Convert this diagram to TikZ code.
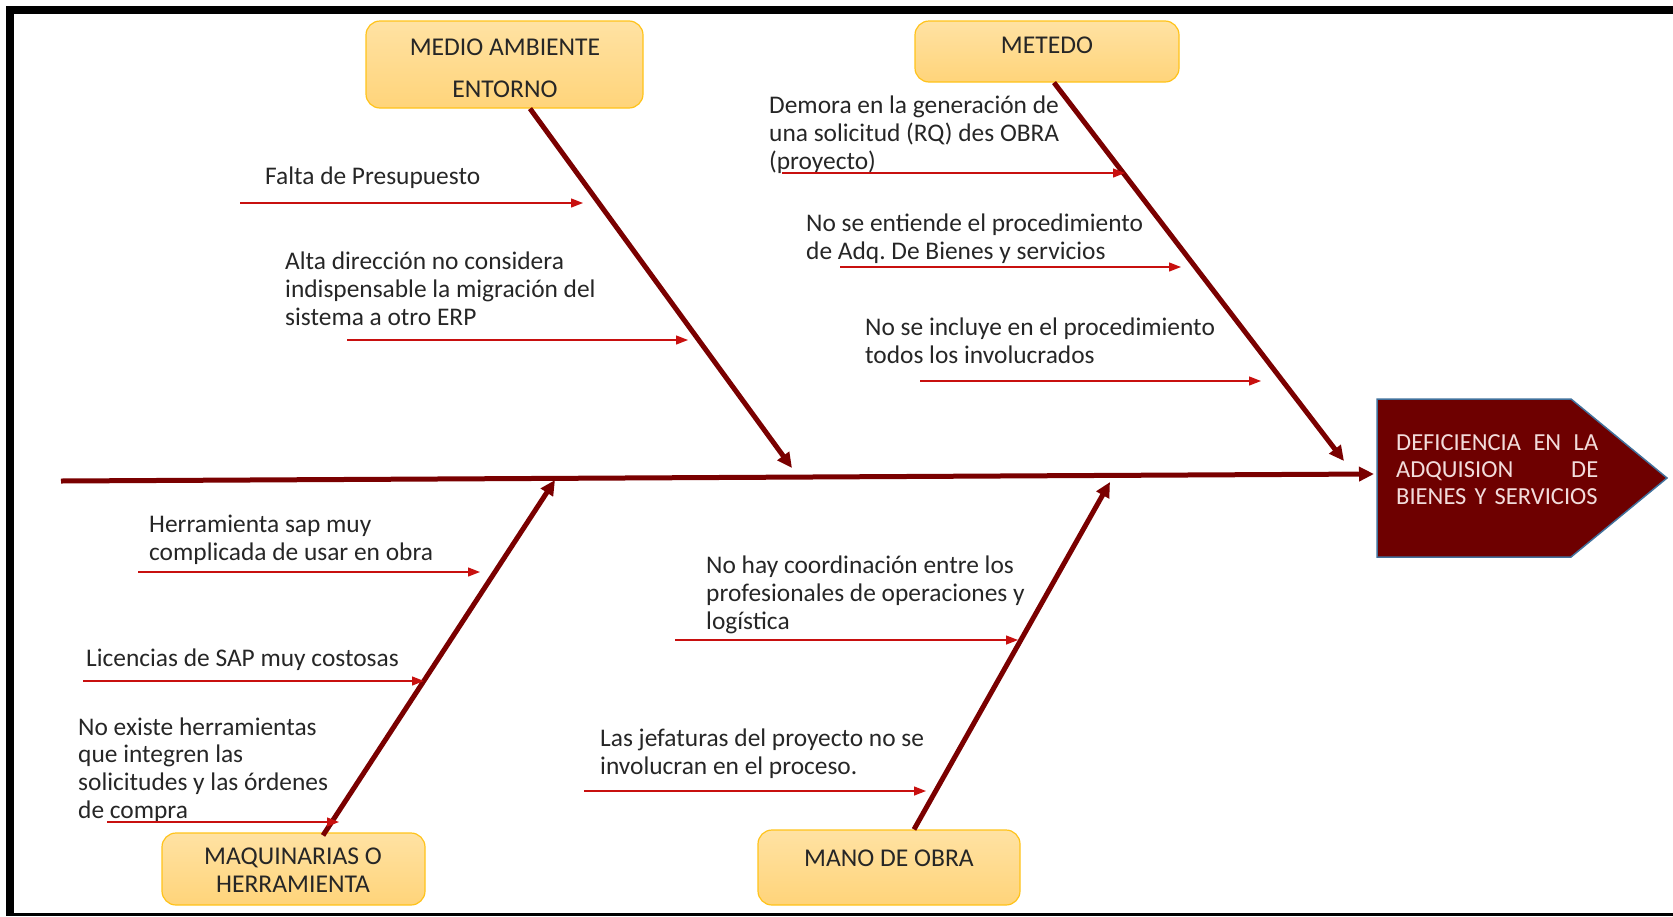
\documentclass[tikz,border=0pt]{standalone}
\usepackage{fontspec}
\setmainfont{Carlito}
\usetikzlibrary{arrows.meta}

\definecolor{rojoespina}{HTML}{7A0000}
\definecolor{rojocausa}{HTML}{C8100F}
\definecolor{rojocabeza}{HTML}{6E0000}
\definecolor{azulborde}{HTML}{41719C}
\definecolor{cajaarriba}{HTML}{FFE2A3}
\definecolor{cajaabajo}{HTML}{FFD47A}
\definecolor{cajaborde}{HTML}{FFC31A}
\definecolor{textogris}{HTML}{262626}
\definecolor{textocabeza}{HTML}{F2DCDB}

\begin{document}
\begin{tikzpicture}[x=1pt, y=-1pt,
    hueso/.style={rojoespina, line width=5pt, -{Triangle[length=15pt, width=14pt]}},
    flecha/.style={rojocausa, line width=1.3pt, -{Triangle[length=12pt, width=9pt]}},
    caja/.style={draw=cajaborde, line width=1.2pt, rounded corners=14pt,
      top color=cajaarriba, bottom color=cajaabajo, inner sep=0pt},
    titulo/.style={text=textogris, font=\fontsize{25.6}{27.5}\selectfont, align=center, inner sep=0pt},
    causatxt/.style={text=textogris, font=\fontsize{25.4}{27.6}\selectfont, align=left,
      anchor=base west, inner sep=0pt}]
  \useasboundingbox (0, 0) rectangle (1673, 916);

  % marco
  \fill[black] (6, 6) rectangle (1673, 14);
  \fill[black] (6, 6) rectangle (14, 916);
  \fill[black] (6, 913) rectangle (1673, 916);

  % cabeza
  \fill[rojocabeza, draw=azulborde, line width=1.5pt]
    (1377, 399) -- (1571, 399) -- (1667, 478) -- (1571, 557) -- (1377, 557) -- cycle;
  \node[text=textocabeza, font=\fontsize{24.5}{27}\selectfont, text width=202pt, align=left,
    anchor=base west, inner sep=0pt] (efecto) at (1396, 450)
    {DEFICIENCIA\hfill EN\hfill LA\\ADQUISION\hfill DE\\BIENES Y SERVICIOS};

  % espina central
  \coordinate (cola) at (61, 481);
  \coordinate (efecto-w) at (1374, 474);
  \draw[hueso] (cola) -- (efecto-w);

  % categorias
  \node[caja, minimum width=277pt, minimum height=87pt] (medio) at (504.5, 64.5) {};
  \node[titulo] (medio-t) at (505, 68) {MEDIO AMBIENTE\\[14.5pt]ENTORNO};
  \node[caja, minimum width=264pt, minimum height=61pt] (metedo) at (1047, 51.5) {};
  \node[titulo] (metedo-t) at (1047, 45) {METEDO};
  \node[caja, minimum width=263pt, minimum height=72pt] (maquinas) at (293.5, 869) {};
  \node[titulo] (maquinas-t) at (293, 870) {MAQUINARIAS O\\HERRAMIENTA};
  \node[caja, minimum width=262pt, minimum height=75pt] (mano) at (889, 867.5) {};
  \node[titulo] (mano-t) at (889, 858) {MANO DE OBRA};

  % huesos
  \coordinate (medio-e) at (792, 468);
  \coordinate (metedo-e) at (1344, 461);
  \coordinate (maquinas-e) at (555, 480);
  \coordinate (mano-e) at (1110, 482);
  \draw[hueso] ([xshift=25.5pt]medio.south) -- (medio-e);
  \draw[hueso] ([xshift=7pt]metedo.south) -- (metedo-e);
  \draw[hueso] ([xshift=29.5pt, yshift=-3pt]maquinas.north) -- (maquinas-e);
  \draw[hueso] ([xshift=25pt]mano.north) -- (mano-e);

  % causas - medio ambiente
  \node[causatxt] (falta) at (265, 184) {Falta de Presupuesto};
  \coordinate (falta-a) at (240, 203);
  \coordinate (falta-b) at (583, 203);
  \draw[flecha] (falta-a) -- (falta-b);
  \node[causatxt] (alta) at (285, 325)
    {Alta dirección no considera\\indispensable la migración del\\sistema a otro ERP};
  \coordinate (alta-a) at (347, 340);
  \coordinate (alta-b) at (688, 340);
  \draw[flecha] (alta-a) -- (alta-b);

  % causas - metodo
  \node[causatxt] (demora) at (769, 169)
    {Demora en la generación de\\una solicitud (RQ) des OBRA\\(proyecto)};
  \coordinate (demora-a) at (782, 173);
  \coordinate (demora-b) at (1125, 173);
  \draw[flecha] (demora-a) -- (demora-b);
  \node[causatxt] (entiende) at (806, 259)
    {No se entiende el procedimiento\\de Adq.\ De Bienes y servicios};
  \coordinate (entiende-a) at (840, 267);
  \coordinate (entiende-b) at (1181, 267);
  \draw[flecha] (entiende-a) -- (entiende-b);
  \node[causatxt] (incluye) at (865, 363)
    {No se incluye en el procedimiento\\todos los involucrados};
  \coordinate (incluye-a) at (920, 381);
  \coordinate (incluye-b) at (1261, 381);
  \draw[flecha] (incluye-a) -- (incluye-b);

  % causas - maquinarias
  \node[causatxt] (sap) at (149, 560)
    {Herramienta sap muy\\complicada de usar en obra};
  \coordinate (sap-a) at (138, 572);
  \coordinate (sap-b) at (480, 572);
  \draw[flecha] (sap-a) -- (sap-b);
  \node[causatxt] (licencias) at (86, 666) {Licencias de SAP muy costosas};
  \coordinate (licencias-a) at (83, 681);
  \coordinate (licencias-b) at (424, 681);
  \draw[flecha] (licencias-a) -- (licencias-b);
  \node[causatxt] (integra) at (78, 818)
    {No existe herramientas\\que integren las\\solicitudes y las órdenes\\de compra};
  \coordinate (integra-a) at (107, 822);
  \coordinate (integra-b) at (339, 822);
  \draw[flecha] (integra-a) -- (integra-b);

  % causas - mano de obra
  \node[causatxt] (coordina) at (706, 629)
    {No hay coordinación entre los\\profesionales de operaciones y\\logística};
  \coordinate (coordina-a) at (675, 640);
  \coordinate (coordina-b) at (1018, 640);
  \draw[flecha] (coordina-a) -- (coordina-b);
  \node[causatxt] (jefes) at (600, 774)
    {Las jefaturas del proyecto no se\\involucran en el proceso.};
  \coordinate (jefes-a) at (584, 791);
  \coordinate (jefes-b) at (926, 791);
  \draw[flecha] (jefes-a) -- (jefes-b);
\end{tikzpicture}
\end{document}
